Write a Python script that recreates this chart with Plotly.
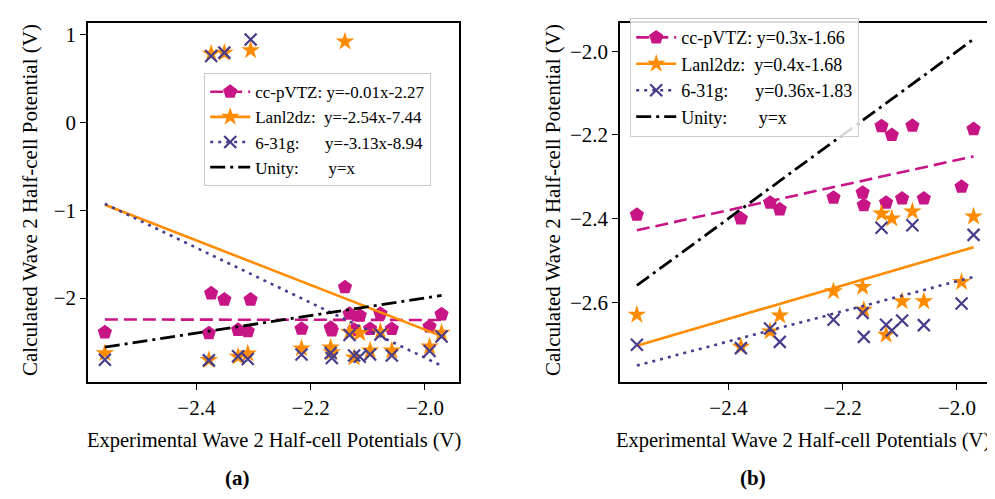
import plotly.graph_objects as go

# ---------------- data ----------------
# molecules shown in both panels (experimental wave-2 potentials, V)
x_exp = [-2.56, -2.378, -2.327, -2.31, -2.216, -2.165, -2.163, -2.132,
         -2.124, -2.114, -2.096, -2.078, -2.058, -1.992, -1.971]
ccpvtz = [-2.391, -2.400, -2.362, -2.378, -2.350, -2.338, -2.368, -2.179,
          -2.362, -2.200, -2.352, -2.178, -2.352, -2.324, -2.186]
lanl2dz = [-2.630, -2.707, -2.670, -2.632, -2.574, -2.564, -2.618, -2.388,
           -2.678, -2.400, -2.598, -2.383, -2.598, -2.552, -2.395]
g631 = [-2.702, -2.710, -2.663, -2.695, -2.642, -2.626, -2.683, -2.422,
        -2.654, -2.668, -2.644, -2.416, -2.655, -2.603, -2.439]

# extra molecules only in panel (a)
x_extra = [-2.374, -2.351, -2.305, -2.140]
ccpvtz_extra = [-1.947, -2.018, -2.018, -1.878]
lanl2dz_extra = [0.78, 0.79, 0.82, 0.92]
g631_extra = [0.755, 0.793, 0.943, None]

# fitted lines (slope, intercept) as in the legends
fit_a = {"cc-pVTZ": (-0.01, -2.27), "Lanl2dz": (-2.54, -7.44), "6-31g": (-3.13, -8.94)}
fit_b = {"cc-pVTZ": (0.3, -1.66), "Lanl2dz": (0.4, -1.68), "6-31g": (0.36, -1.83)}

x_ticks = [-2.4, -2.2, -2.0]
y_ticks_a = [-2, -1, 0, 1]
y_ticks_b = [-2.6, -2.4, -2.2, -2.0]

# ---------------- styles ----------------
PINK = "#C71585"
ORANGE = "#FF8C00"
BLUE = "#483D8B"
FONT = "Liberation Serif"

styles = {
    "cc-pVTZ": dict(color=PINK, symbol="pentagon", size=15, dash="13px,6px"),
    "Lanl2dz": dict(color=ORANGE, symbol="star", size=14, dash="solid"),
    "6-31g": dict(color=BLUE, symbol="x-thin", size=12, dash="3px,5px"),
}

fig = go.Figure()


def marker_for(name):
    s = styles[name]
    if s["symbol"] == "x-thin":
        return dict(symbol="x-thin", size=s["size"], color=s["color"],
                    line=dict(color=s["color"], width=2.2))
    return dict(symbol=s["symbol"], size=s["size"], color=s["color"], line=dict(width=0))


def add_panel(xs, series, fits, xa, ya, legend, labels):
    xmin, xmax = min(xs), max(xs)
    for name, ys in series.items():
        s = styles[name]
        fig.add_trace(go.Scatter(x=xs, y=ys, mode="markers", marker=marker_for(name),
                                 xaxis=xa, yaxis=ya, showlegend=False, hoverinfo="x+y"))
        m, b = fits[name]
        fig.add_trace(go.Scatter(x=[xmin, xmax], y=[m * xmin + b, m * xmax + b], mode="lines",
                                 line=dict(color=s["color"], width=2.6, dash=s["dash"]),
                                 xaxis=xa, yaxis=ya, showlegend=False))
    # unity line
    fig.add_trace(go.Scatter(x=[xmin, xmax], y=[xmin, xmax], mode="lines",
                             line=dict(color="black", width=2.8, dash="15px,5px,3px,5px"),
                             xaxis=xa, yaxis=ya, showlegend=False))
    # legend entries
    for i, name in enumerate(["cc-pVTZ", "Lanl2dz", "6-31g"]):
        s = styles[name]
        fig.add_trace(go.Scatter(x=[None], y=[None], mode="lines+markers",
                                 marker=marker_for(name),
                                 line=dict(color=s["color"], width=2.6, dash=s["dash"]),
                                 name=labels[i], legend=legend, legendgroup=legend + name,
                                 xaxis=xa, yaxis=ya))
    fig.add_trace(go.Scatter(x=[None], y=[None], mode="lines",
                             line=dict(color="black", width=2.8, dash="15px,5px,3px,5px"),
                             name=labels[3], legend=legend, legendgroup=legend + "unity",
                             xaxis=xa, yaxis=ya))


NB = "\u00a0"
labels_a = ["cc-pVTZ: y=-0.01x-2.27",
            "Lanl2dz:" + NB * 2 + "y=-2.54x-7.44",
            "6-31g:" + NB * 6 + "y=-3.13x-8.94",
            "Unity:" + NB * 7 + "y=x"]
labels_b = ["cc-pVTZ: y=0.3x-1.66",
            "Lanl2dz:" + NB * 2 + "y=0.4x-1.68",
            "6-31g:" + NB * 6 + "y=0.36x-1.83",
            "Unity:" + NB * 7 + "y=x"]

add_panel(x_exp + x_extra,
          {"cc-pVTZ": ccpvtz + ccpvtz_extra, "Lanl2dz": lanl2dz + lanl2dz_extra,
           "6-31g": g631 + g631_extra},
          fit_a, "x", "y", "legend", labels_a)
add_panel(x_exp, {"cc-pVTZ": ccpvtz, "Lanl2dz": lanl2dz, "6-31g": g631},
          fit_b, "x2", "y2", "legend2", labels_b)

W, H = 995, 499
axis_common = dict(showline=True, linecolor="black", linewidth=1.5, mirror=True,
                   ticks="outside", ticklen=6, tickwidth=1.3, tickcolor="black",
                   showgrid=False, zeroline=False,
                   tickfont=dict(family=FONT, size=21, color="black"))

yd = [(H - 374) / H, (H - 14.5) / H]
xr = [-2.5895, -1.9405]
leg_common = dict(xanchor="left", yanchor="top",
                  bgcolor="rgba(255,255,255,0.85)", bordercolor="#cccccc", borderwidth=1.2,
                  tracegroupgap=0, itemwidth=40)
fig.update_layout(
    width=W, height=H, margin=dict(l=0, r=0, t=0, b=0),
    paper_bgcolor="white", plot_bgcolor="white",
    font=dict(family=FONT, size=20, color="black"),
    xaxis=dict(domain=[80 / W, 451 / W], range=xr, tickvals=x_ticks, tickformat=".1f",
               anchor="y", **axis_common),
    yaxis=dict(domain=yd, range=[-2.956, 1.136], tickvals=y_ticks_a, tickformat="d",
               anchor="x", **axis_common),
    xaxis2=dict(domain=[612 / W, 983 / W], range=xr, tickvals=x_ticks, tickformat=".1f",
                anchor="y2", **axis_common),
    yaxis2=dict(domain=yd, range=[-2.791, -1.931], tickvals=y_ticks_b, tickformat=".1f",
                anchor="x2", **axis_common),
    legend=dict(x=196 / W, y=(H - 65) / H, font=dict(family=FONT, size=17, color="black"),
                **leg_common),
    legend2=dict(x=622 / W, y=(H - 10) / H, font=dict(family=FONT, size=18, color="black"),
                 **leg_common),
)

ann = [
    dict(text="Experimental Wave 2 Half-cell Potentials (V)", x=265.5 / W, y=(H - 432) / H, size=20.5),
    dict(text="Experimental Wave 2 Half-cell Potentials (V)", x=795 / W, y=(H - 432) / H, size=20.5),
    dict(text="Calculated Wave 2 Half-cell Potential (V)", x=22 / W, y=(H - 192) / H, textangle=-90, size=21),
    dict(text="Calculated Wave 2 Half-cell Potential (V)", x=545 / W, y=(H - 192) / H, textangle=-90, size=21),
    dict(text="<b>(a)</b>", x=229 / W, y=(H - 470) / H, size=21),
    dict(text="<b>(b)</b>", x=745 / W, y=(H - 470) / H, size=21),
]
for a in ann:
    size = a.pop("size")
    fig.add_annotation(xref="paper", yref="paper", showarrow=False,
                       font=dict(family=FONT, size=size, color="black"),
                       xanchor="center", yanchor="middle", **a)

fig.write_html("out.html")
